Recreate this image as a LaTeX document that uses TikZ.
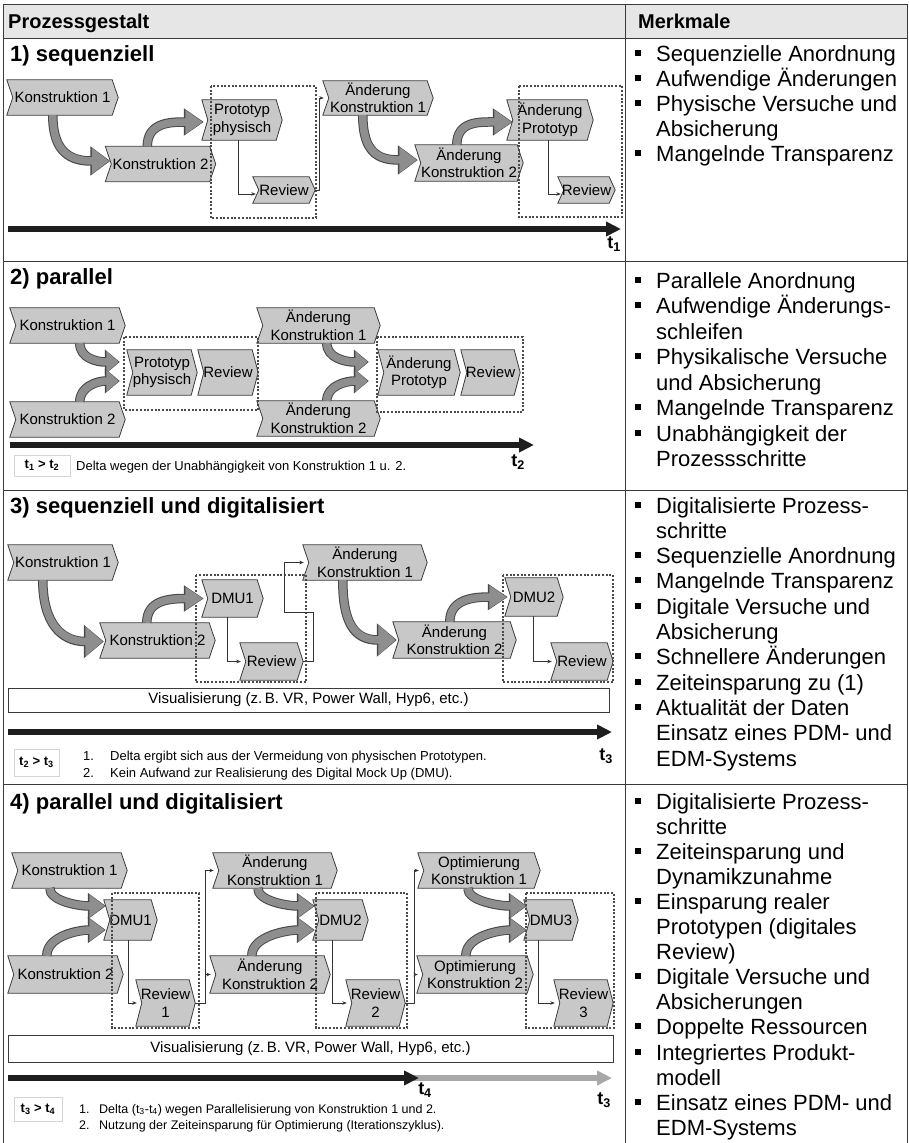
\documentclass[tikz,border=0pt]{standalone}
\usepackage{fontspec}
\setmainfont{Liberation Sans}
\usetikzlibrary{arrows.meta,calc}
\pgfdeclarelayer{bg}
\pgfsetlayers{bg,main}

\definecolor{boxfill}{HTML}{C8C8C8}
\definecolor{boxline}{HTML}{3C3C3C}
\definecolor{fatfill}{HTML}{8E8E8E}
\definecolor{fatline}{HTML}{484848}
\definecolor{dotc}{HTML}{4A4A4A}
\definecolor{tline}{HTML}{1E1E1E}
\definecolor{tlight}{HTML}{A8A8A8}
\definecolor{headbg}{HTML}{E6E6E6}
\definecolor{gridc}{HTML}{3A3A3A}
\definecolor{connc}{HTML}{333333}
\definecolor{dboxc}{HTML}{D4D4D4}

\tikzset{
  chvtxt/.style={inner sep=0pt, align=center, font=\fontsize{15}{17.5}\selectfont},
  chvline/.style={draw=boxline, fill=boxfill, line width=0.8pt},
  fatback/.style={draw=fatline, line width=9.5pt, shorten >=-1pt},
  fatfront/.style={draw=fatfill, line width=7.5pt},
  conn/.style={draw=connc, line width=0.8pt, -{Stealth[length=4.5pt,width=3.6pt]}},
  dotbox/.style={draw=dotc, line width=2pt, dash pattern=on 2pt off 1.7pt},
  tarr/.style={draw=tline, line width=6.5pt, -{Triangle[width=14pt,length=15pt]}},
  tarrlight/.style={draw=tlight, line width=6.5pt, -{Triangle[width=14pt,length=15pt]}},
  tlab/.style={inner sep=0pt, font=\fontsize{18}{18}\bfseries\selectfont},
  hdr/.style={inner sep=0pt, anchor=base west, font=\fontsize{20}{22}\bfseries\selectfont},
  ttl/.style={inner sep=0pt, anchor=base west, font=\fontsize{22}{24}\bfseries\selectfont},
  mtxt/.style={inner sep=0pt, anchor=base west, font=\fontsize{22}{24}\selectfont},
  dtxt/.style={inner sep=0pt, anchor=base west, font=\fontsize{13}{16}\selectfont},
  dtxts/.style={inner sep=0pt, anchor=base west, font=\fontsize{12.5}{15}\selectfont},
  dbox/.style={draw=dboxc, fill=white, line width=0.8pt, inner sep=0pt,
    font=\fontsize{13}{14}\bfseries\selectfont},
  visbox/.style={draw=gridc, fill=white, line width=0.8pt, inner sep=0pt,
    font=\fontsize{15}{16}\selectfont},
}

% chevron step: name, centre x, centre y, width, height, text
\newcommand\chv[6]{%
  \node[chvtxt, minimum width=#4pt, minimum height=#5pt] (#1) at (#2,#3) {#6};
  \begin{pgfonlayer}{bg}
    \path[chvline] (#1.north west) -- ([xshift=-6pt]#1.north east) -- (#1.east)
      -- ([xshift=-6pt]#1.south east) -- (#1.south west) -- ([xshift=6pt]#1.west) -- cycle;
  \end{pgfonlayer}}

% broad grey bent arrow: head width, head length, path
\newcommand\fatarr[3]{%
  \pgfmathsetmacro\fw{#1-3}\pgfmathsetmacro\fl{#2-2.5}%
  \draw[fatback, -{Triangle[width=#1pt,length=#2pt]}] #3;
  \draw[fatfront, -{Triangle[width=\fw pt,length=\fl pt]}] #3;}

% feature list in the right column
\newcounter{ml}
\newcommand\mrow[2]{\gdef\cury{#1}\gdef\mstep{#2}}
\newcommand\mnext{\pgfmathsetmacro\tmpy{\cury+\mstep}\global\let\cury\tmpy}
\newcommand\mb[1]{\stepcounter{ml}\edef\mname{m\arabic{ml}}%
  \node[mtxt] (\mname) at (656,\cury) {#1};
  \fill (635,\cury-11.5) rectangle ++(6,6);
  \mnext}
\newcommand\mc[1]{\stepcounter{ml}\edef\mname{m\arabic{ml}}%
  \node[mtxt] (\mname) at (656,\cury) {#1};
  \mnext}

\begin{document}
\begin{tikzpicture}[x=1pt, y=-1pt]
\useasboundingbox (0,0) rectangle (909,1143);
\begin{pgfonlayer}{bg}
  \fill[white] (0,0) rectangle (909,1143);
\end{pgfonlayer}

% ---------- table frame ----------
\fill[headbg] (3,4) rectangle (907,38);
\draw[gridc, line width=1pt] (3,1143) -- (3,4) -- (907,4) -- (907,1143);
\foreach \yy in {38,261,490,784} \draw[gridc, line width=1pt] (3,\yy) -- (907,\yy);
\draw[gridc, line width=1pt] (625,4) -- (625,1143);

\node[hdr] (hd1) at (8,28) {Prozessgestalt};
\node[hdr] (hd2) at (638,28) {Merkmale};

\node[ttl] (ti1) at (10,61) {1) sequenziell};
\node[ttl] (ti2) at (10,284) {2) parallel};
\node[ttl] (ti3) at (10,513) {3) sequenziell und digitalisiert};
\node[ttl] (ti4) at (10,809) {4) parallel und digitalisiert};

% ---------- 1) sequenziell ----------
\chv{s1k1}{62.5}{97.5}{111}{35}{Konstruktion 1}
\chv{s1k2}{160.5}{164}{110}{35}{Konstruktion 2}
\chv{s1pp}{242}{120}{80}{40}{Prototyp\\physisch}
\chv{s1r}{284}{190}{62}{26}{Review}
\chv{s1a1}{378}{98}{110}{34}{Änderung\\Konstruktion 1}
\chv{s1a2}{469}{163}{108}{36}{Änderung\\Konstruktion 2}
\chv{s1ap}{550}{120}{86}{40}{Änderung\\Prototyp}
\chv{s1r2}{586.5}{190}{57}{26}{Review}

\draw[dotbox] (211,86) rectangle (316,218);
\draw[dotbox] (519,86) rectangle (622,217);

\fatarr{28}{20}{($(s1k1.south west)+(46,0)$) .. controls +(0,38) and +(-38,0) .. ($(s1k2.west)+(4,-3)$)}
\fatarr{26}{20}{($(s1k2.north west)+(42,0)$) .. controls +(0,-24) and +(-32,0) .. ($(s1pp.west)+(1,2)$)}
\fatarr{28}{20}{($(s1a1.south west)+(40,0)$) .. controls +(0,38) and +(-38,0) .. ($(s1a2.west)+(2,-3)$)}
\fatarr{26}{20}{($(s1a2.north west)+(42,0)$) .. controls +(0,-24) and +(-32,0) .. ($(s1ap.west)+(5,2)$)}

\draw[conn] ([xshift=-4pt]s1pp.south) |- ($(s1r.west)+(3,4)$);
\draw[conn] (s1r.east) -- ++(4,0) |- ([xshift=1pt]s1a1.west);
\draw[conn] ([xshift=-2pt]s1ap.south) |- ($(s1r2.west)+(3,4)$);

\coordinate (ta1s) at (8,229);
\coordinate (ta1e) at (621,229);
\draw[tarr] (ta1s) -- (ta1e);
\node[tlab] (t1) at (614,244) {t\textsubscript{1}};

% ---------- 2) parallel ----------
\chv{s2k1}{67.5}{325.5}{115}{35}{Konstruktion 1}
\chv{s2k2}{67.5}{419.5}{115}{35}{Konstruktion 2}
\chv{s2pp}{162}{372.5}{70}{45}{Prototyp\\physisch}
\chv{s2r}{228}{372.5}{60}{45}{Review}
\chv{s2a1}{318.5}{325.5}{123}{35}{Änderung\\Konstruktion 1}
\chv{s2a2}{318.5}{418.5}{123}{35}{Änderung\\Konstruktion 2}
\chv{s2ap}{419}{372.5}{82}{45}{Änderung\\Prototyp}
\chv{s2r2}{490.5}{372.5}{59}{45}{Review}

\draw[dotbox] (124,337) rectangle (258,410);
\draw[dotbox] (377,337) rectangle (523,412);

\fatarr{24}{15}{($(s2k1.south west)+(70,0)$) .. controls +(0,15) and +(-22,0) .. ($(s2pp.west)+(-8,-10.5)$)}
\fatarr{24}{15}{($(s2k2.north west)+(70,0)$) .. controls +(0,-15) and +(-22,0) .. ($(s2pp.west)+(-8,8.5)$)}
\fatarr{24}{15}{($(s2a1.south west)+(70,0)$) .. controls +(0,15) and +(-22,0) .. ($(s2ap.west)+(-10,-10.5)$)}
\fatarr{24}{15}{($(s2a2.north west)+(70,0)$) .. controls +(0,-15) and +(-22,0) .. ($(s2ap.west)+(-10,8.5)$)}

\coordinate (ta2s) at (10,445);
\coordinate (ta2e) at (534,445);
\draw[tarr] (ta2s) -- (ta2e);
\node[tlab] (t2) at (518,462) {t\textsubscript{2}};

\node[dbox, minimum width=56pt, minimum height=21pt] (dl2) at (42,465.5) {t\textsubscript{1} > t\textsubscript{2}};
\node[dtxt] (dt2) at (76,470) {Delta wegen der Unabhängigkeit von Konstruktion 1 u. 2.};

% ---------- 3) sequenziell und digitalisiert ----------
\chv{s3k1}{63}{562.5}{110}{35}{Konstruktion 1}
\chv{s3k2}{157.5}{640.5}{115}{35}{Konstruktion 2}
\chv{s3d1}{232.5}{598.5}{61}{37}{DMU1}
\chv{s3r1}{271.5}{661.5}{63}{37}{Review}
\chv{s3a1}{365}{562.5}{124}{35}{Änderung\\Konstruktion 1}
\chv{s3a2}{454.5}{640}{123}{36}{Änderung\\Konstruktion 2}
\chv{s3d2}{534}{597}{58}{38}{DMU2}
\chv{s3r2}{582}{661.5}{62}{37}{Review}

\draw[dotbox] (196,575) rectangle (306,682);
\draw[dotbox] (503,575) rectangle (613,682);

\fatarr{32}{20}{($(s3k1.south west)+(35,0)$) .. controls +(0,42) and +(-42,0) .. ($(s3k2.west)+(3,1)$)}
\fatarr{25}{20}{($(s3k2.north west)+(47,0)$) .. controls +(0,-22) and +(-35,0) .. ($(s3d1.west)+(1,0)$)}
\fatarr{32}{20}{($(s3a1.south west)+(40,0)$) .. controls +(0,42) and +(-42,0) .. ($(s3a2.west)+(3,0)$)}
\fatarr{25}{20}{($(s3a2.north west)+(57,0)$) .. controls +(0,-22) and +(-35,0) .. ($(s3d2.west)+(2,0)$)}

\draw[conn] ([xshift=-5.5pt]s3d1.south) |- ([xshift=1pt]s3r1.west);
\draw[conn] (s3r1.east) -- ++(10,0) |- (284,612) |- ([xshift=1pt]s3a1.west);
\draw[conn] ([xshift=-1pt]s3d2.south) |- ([xshift=1pt]s3r2.west);

\node[visbox, minimum width=601pt, minimum height=24pt] (vis3) at (308.5,700)
  {Visualisierung (z.\,B. VR, Power Wall, Hyp6, etc.)};

\coordinate (ta3s) at (8,732);
\coordinate (ta3e) at (612,732);
\draw[tarr] (ta3s) -- (ta3e);
\node[tlab] (t3) at (606,756) {t\textsubscript{3}};

\node[dbox, minimum width=45pt, minimum height=27pt] (dl3) at (36.5,762.5) {t\textsubscript{2} > t\textsubscript{3}};
\node[dtxt] (dt3a) at (83,760) {\makebox[27pt][l]{1.}Delta ergibt sich aus der Vermeidung von physischen Prototypen.};
\node[dtxt] (dt3b) at (83,777) {\makebox[27pt][l]{2.}Kein Aufwand zur Realisierung des Digital Mock Up (DMU).};

% ---------- 4) parallel und digitalisiert ----------
\chv{s4k1}{69.5}{870.5}{115}{35}{Konstruktion 1}
\chv{s4k2}{65.5}{974.5}{115}{37}{Konstruktion 2}
\chv{s4d1}{130.5}{920}{53}{40}{DMU1}
\chv{s4r1}{165.5}{1003}{59}{46}{Review\\1}
\chv{s4a1}{275}{870.5}{124}{35}{Änderung\\Konstruktion 1}
\chv{s4a2}{270}{974.5}{120}{37}{Änderung\\Konstruktion 2}
\chv{s4d2}{340.5}{920}{55}{40}{DMU2}
\chv{s4r2}{375.5}{1003}{59}{46}{Review\\2}
\chv{s4o1}{479}{870.5}{122}{35}{Optimierung\\Konstruktion 1}
\chv{s4o2}{475}{974.5}{116}{37}{Optimierung\\Konstruktion 2}
\chv{s4d3}{551}{920}{54}{40}{DMU3}
\chv{s4r3}{583.5}{1003}{59}{46}{Review\\3}

\draw[dotbox] (112,893) rectangle (199,1028);
\draw[dotbox] (316,893) rectangle (407,1028);
\draw[dotbox] (526,893) rectangle (614,1028);

\fatarr{25}{18}{($(s4k1.south west)+(38,0)$) .. controls +(0,13) and +(-26,0) .. ($(s4d1.west)+(1,-14)$)}
\fatarr{25}{18}{($(s4k2.north west)+(39,0)$) .. controls +(0,-20) and +(-26,0) .. ($(s4d1.west)+(1,10)$)}
\fatarr{25}{18}{($(s4a1.south west)+(45,0)$) .. controls +(0,13) and +(-26,0) .. ($(s4d2.west)+(1,-14)$)}
\fatarr{25}{18}{($(s4a2.north west)+(42,0)$) .. controls +(0,-20) and +(-26,0) .. ($(s4d2.west)+(1,10)$)}
\fatarr{25}{18}{($(s4o1.south west)+(50,0)$) .. controls +(0,13) and +(-26,0) .. ($(s4d3.west)+(2,-14)$)}
\fatarr{25}{18}{($(s4o2.north west)+(49,0)$) .. controls +(0,-20) and +(-26,0) .. ($(s4d3.west)+(2,10)$)}

\draw[conn] ([xshift=-2.5pt]s4d1.south) |- ([xshift=1pt]s4r1.west);
\draw[conn] (s4r1.east) -- ++(10,0) |- ([xshift=1pt]s4a1.west);
\draw[conn] ($(s4r1.east)+(10,0)$) |- ([xshift=1pt]s4a2.west);
\draw[conn] ([xshift=-8pt]s4d2.south) |- ([xshift=1pt]s4r2.west);
\draw[conn] (s4r2.east) -- ++(9,0) |- ([xshift=1pt]s4o1.west);
\draw[conn] ($(s4r2.east)+(9,0)$) |- ([xshift=1pt]s4o2.west);
\draw[conn] ([xshift=-13pt]s4d3.south) |- ([xshift=1pt]s4r3.west);

\node[visbox, minimum width=605pt, minimum height=27pt] (vis4) at (310.5,1048.5)
  {Visualisierung (z.\,B. VR, Power Wall, Hyp6, etc.)};

\coordinate (ta4s) at (8,1078);
\coordinate (ta4m) at (419,1078);
\coordinate (ta4g) at (405,1078);
\coordinate (ta4e) at (612,1078);
\draw[tarrlight] (ta4g) -- (ta4e);
\draw[tarr] (ta4s) -- (ta4m);
\node[tlab] (t4) at (425,1090) {t\textsubscript{4}};
\node[tlab] (t3b) at (604,1100) {t\textsubscript{3}};

\node[dbox, minimum width=48pt, minimum height=24pt] (dl4) at (38,1109) {t\textsubscript{3} > t\textsubscript{4}};
\node[dtxts] (dt4a) at (79,1113) {\makebox[20pt][l]{1.}Delta (t\textsubscript{3}-t\textsubscript{4}) wegen Parallelisierung von Konstruktion 1 und 2.};
\node[dtxts] (dt4b) at (79,1129) {\makebox[20pt][l]{2.}Nutzung der Zeiteinsparung für Optimierung (Iterationszyklus).};

% ---------- Merkmale ----------
\mrow{61}{25}
\mb{Sequenzielle Anordnung}
\mb{Aufwendige Änderungen}
\mb{Physische Versuche und}
\mc{Absicherung}
\mb{Mangelnde Transparenz}

\mrow{288}{25.5}
\mb{Parallele Anordnung}
\mb{Aufwendige Änderungs-}
\mc{schleifen}
\mb{Physikalische Versuche}
\mc{und Absicherung}
\mb{Mangelnde Transparenz}
\mb{Unabhängigkeit der}
\mc{Prozessschritte}

\mrow{513}{25.3}
\mb{Digitalisierte Prozess-}
\mc{schritte}
\mb{Sequenzielle Anordnung}
\mb{Mangelnde Transparenz}
\mb{Digitale Versuche und}
\mc{Absicherung}
\mb{Schnellere Änderungen}
\mb{Zeiteinsparung zu (1)}
\mb{Aktualität der Daten}
\mc{Einsatz eines PDM- und}
\mc{EDM-Systems}

\mrow{809}{25.1}
\mb{Digitalisierte Prozess-}
\mc{schritte}
\mb{Zeiteinsparung und}
\mc{Dynamikzunahme}
\mb{Einsparung realer}
\mc{Prototypen (digitales}
\mc{Review)}
\mb{Digitale Versuche und}
\mc{Absicherungen}
\mb{Doppelte Ressourcen}
\mb{Integriertes Produkt-}
\mc{modell}
\mb{Einsatz eines PDM- und}
\mc{EDM-Systems}

\end{tikzpicture}
\end{document}
